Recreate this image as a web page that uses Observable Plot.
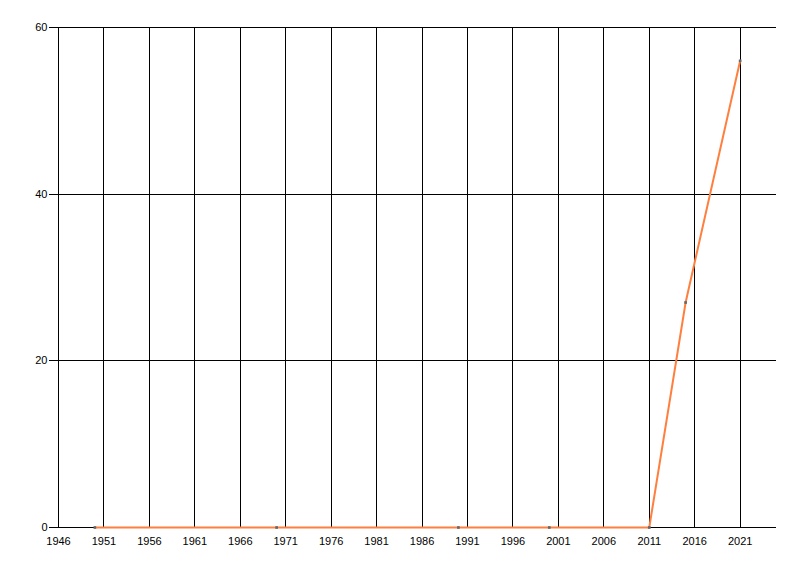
<!DOCTYPE html>
<html><head><meta charset="utf-8">
<script src="https://cdn.jsdelivr.net/npm/d3@7"></script>
<script src="https://cdn.jsdelivr.net/npm/@observablehq/plot@0.6"></script>
<style>body{margin:0;background:#fff;}</style>
</head><body><div id="chart"></div>
<script>
const years = [1950, 1970, 1990, 2000, 2011, 2015, 2021];
const values = [0, 0, 0, 0, 0, 27, 56];
const xTicks = [1946, 1951, 1956, 1961, 1966, 1971, 1976, 1981, 1986, 1991, 1996, 2001, 2006, 2011, 2016, 2021];
const yTicks = [0, 20, 40, 60];
const xDomain = [1946, 2025];
const yDomain = [0, 60];

const data = years.map((year, i) => ({year, value: values[i]}));

const chart = Plot.plot({
  width: 800, height: 576,
  marginLeft: 58, marginRight: 24, marginTop: 27, marginBottom: 49,
  style: {fontFamily: "Liberation Sans, Arial, sans-serif", fontSize: "11px", color: "#000", background: "#fff"},
  x: {domain: xDomain, ticks: xTicks, tickFormat: d => String(d)},
  y: {domain: yDomain, ticks: yTicks},
  marks: [
    Plot.ruleX(xTicks, {stroke: "#000", strokeOpacity: 1, shapeRendering: "crispEdges"}),
    Plot.ruleY(yTicks, {stroke: "#000", strokeOpacity: 1, x1: xDomain[0], x2: xDomain[1], shapeRendering: "crispEdges"}),
    Plot.axisX({ticks: xTicks, tickSize: 0, tickPadding: 10, tickFormat: d => String(d), label: null}),
    Plot.axisY({ticks: yTicks, tickSize: 9, tickPadding: 2, label: null, strokeOpacity: 1, shapeRendering: "crispEdges"}),
    Plot.line(data, {x: "year", y: "value", stroke: "#ff7f3f", strokeWidth: 2}),
    Plot.dot(data, {x: "year", y: "value", symbol: "square", r: 1.5, fill: "#666", stroke: "none"})
  ]
});
document.getElementById("chart").appendChild(chart);
</script>
</body></html>
